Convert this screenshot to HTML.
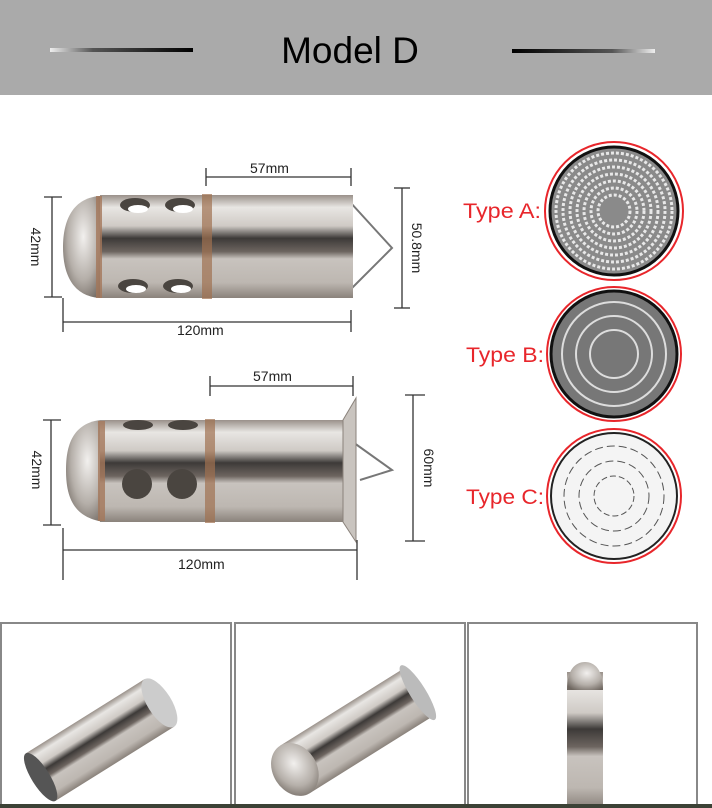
<!DOCTYPE html>
<html><head><meta charset="utf-8"><style>
html,body{margin:0;padding:0;background:#fff;}
body{width:712px;height:808px;overflow:hidden;position:relative;font-family:"Liberation Sans",sans-serif;}
</style></head><body>
<svg width="712" height="808" viewBox="0 0 712 808" xmlns="http://www.w3.org/2000/svg" style="position:absolute;left:0;top:0">
<defs>
<linearGradient id="metal" x1="0" y1="0" x2="0" y2="1">
<stop offset="0" stop-color="#9a918a"/><stop offset="0.12" stop-color="#e8e6e3"/><stop offset="0.3" stop-color="#cfcac5"/>
<stop offset="0.42" stop-color="#3d3a38"/><stop offset="0.55" stop-color="#6d6560"/><stop offset="0.62" stop-color="#c8c3be"/>
<stop offset="0.85" stop-color="#bdb7b1"/><stop offset="1" stop-color="#8a827b"/></linearGradient>
<radialGradient id="dome" cx="0.55" cy="0.4" r="0.7"><stop offset="0" stop-color="#f2f0ee"/><stop offset="0.6" stop-color="#b5afa9"/><stop offset="1" stop-color="#6f6760"/></radialGradient>
<linearGradient id="ll" x1="0" x2="1"><stop offset="0" stop-color="#eee"/><stop offset="0.3" stop-color="#555"/><stop offset="1" stop-color="#000"/></linearGradient>
<linearGradient id="lr" x1="0" x2="1"><stop offset="0" stop-color="#000"/><stop offset="0.7" stop-color="#555"/><stop offset="1" stop-color="#eee"/></linearGradient>
</defs>
<rect x="0" y="0" width="712" height="95" fill="#aaaaaa"/>
<rect x="50" y="48" width="143" height="4" fill="url(#ll)"/>
<rect x="512" y="49" width="143" height="4" fill="url(#lr)"/>
<text x="350" y="63" font-size="37" text-anchor="middle" fill="#000">Model D</text>

<!-- top silencer -->
<g stroke="#333" stroke-width="1.3" fill="none">
<line x1="52" y1="197" x2="52" y2="297"/><line x1="44" y1="197" x2="62" y2="197"/><line x1="44" y1="297" x2="62" y2="297"/>
<line x1="402" y1="188" x2="402" y2="308"/><line x1="394" y1="188" x2="410" y2="188"/><line x1="394" y1="308" x2="410" y2="308"/>
<line x1="206" y1="177" x2="351" y2="177"/><line x1="206" y1="168" x2="206" y2="186"/><line x1="351" y1="168" x2="351" y2="186"/>
<line x1="63" y1="322" x2="351" y2="322"/><line x1="63" y1="298" x2="63" y2="332"/><line x1="351" y1="310" x2="351" y2="332"/>
</g>
<polyline points="350,202 392,248 350,290" fill="none" stroke="#777" stroke-width="2"/>
<path d="M100,196 C70,198 63,225 63,247 C63,270 70,296 100,298 Z" fill="url(#dome)"/>
<rect x="100" y="195" width="253" height="103" fill="url(#metal)"/>
<rect x="96" y="196" width="6" height="102" fill="#a4775a" opacity="0.8"/>
<rect x="202" y="194" width="10" height="105" fill="#a07050" opacity="0.7"/>
<g fill="#4a4540"><ellipse cx="135" cy="205" rx="15" ry="7"/><ellipse cx="180" cy="205" rx="15" ry="7"/><ellipse cx="133" cy="286" rx="15" ry="7"/><ellipse cx="178" cy="286" rx="15" ry="7"/></g>
<g fill="#fff"><ellipse cx="138" cy="209" rx="10" ry="4"/><ellipse cx="183" cy="209" rx="10" ry="4"/><ellipse cx="136" cy="289" rx="10" ry="4"/><ellipse cx="181" cy="289" rx="10" ry="4"/></g>
<g font-size="14" fill="#222">
<text x="250" y="173">57mm</text>
<text x="177" y="335">120mm</text>
<text transform="translate(31,247) rotate(90)" text-anchor="middle">42mm</text>
<text transform="translate(412,248) rotate(90)" text-anchor="middle">50.8mm</text>
</g>

<!-- bottom silencer -->
<g stroke="#333" stroke-width="1.3" fill="none">
<line x1="51" y1="420" x2="51" y2="525"/><line x1="43" y1="420" x2="61" y2="420"/><line x1="43" y1="525" x2="61" y2="525"/>
<line x1="413" y1="395" x2="413" y2="541"/><line x1="405" y1="395" x2="425" y2="395"/><line x1="405" y1="541" x2="425" y2="541"/>
<line x1="210" y1="386" x2="353" y2="386"/><line x1="210" y1="376" x2="210" y2="396"/><line x1="353" y1="376" x2="353" y2="396"/>
<line x1="63" y1="550" x2="357" y2="550"/><line x1="63" y1="528" x2="63" y2="580"/><line x1="357" y1="540" x2="357" y2="580"/>
</g>
<polyline points="350,440 392,470 360,480" fill="none" stroke="#777" stroke-width="2"/>
<path d="M100,420 C70,424 66,450 66,470 C66,495 72,518 105,522 Z" fill="url(#dome)"/>
<rect x="100" y="420" width="248" height="102" fill="url(#metal)"/>
<path d="M343,420 L356,398 L356,542 L343,522 Z" fill="#c9c4bf" stroke="#8a827b"/>
<rect x="98" y="421" width="7" height="100" fill="#a4775a" opacity="0.8"/>
<rect x="205" y="419" width="10" height="104" fill="#a07050" opacity="0.7"/>
<g fill="#4a4540"><ellipse cx="138" cy="425" rx="15" ry="5"/><ellipse cx="183" cy="425" rx="15" ry="5"/><circle cx="137" cy="484" r="15"/><circle cx="182" cy="484" r="15"/></g>
<g font-size="14" fill="#222">
<text x="253" y="381">57mm</text>
<text x="178" y="569">120mm</text>
<text transform="translate(32,470) rotate(90)" text-anchor="middle">42mm</text>
<text transform="translate(424,468) rotate(90)" text-anchor="middle">60mm</text>
</g>

<!-- types -->
<g font-size="21" fill="#e8262b">
<text x="463" y="218" textLength="78" lengthAdjust="spacingAndGlyphs">Type A:</text>
<text x="466" y="362" textLength="78" lengthAdjust="spacingAndGlyphs">Type B:</text>
<text x="466" y="504" textLength="78" lengthAdjust="spacingAndGlyphs">Type C:</text>
</g>
<circle cx="614" cy="211" r="69" fill="none" stroke="#e8262b" stroke-width="2"/>
<circle cx="614" cy="211" r="64" fill="#8a8a8a" stroke="#111" stroke-width="3"/>
<circle cx="614" cy="211" r="58" fill="none" stroke="#fff" stroke-width="3" stroke-dasharray="3 2" opacity="0.8"/>
<circle cx="614" cy="211" r="51" fill="none" stroke="#fff" stroke-width="3" stroke-dasharray="3 2" opacity="0.8"/>
<circle cx="614" cy="211" r="44" fill="none" stroke="#fff" stroke-width="3" stroke-dasharray="3 2" opacity="0.8"/>
<circle cx="614" cy="211" r="37" fill="none" stroke="#fff" stroke-width="3" stroke-dasharray="3 2" opacity="0.8"/>
<circle cx="614" cy="211" r="30" fill="none" stroke="#fff" stroke-width="3" stroke-dasharray="3 2" opacity="0.8"/>
<circle cx="614" cy="211" r="23" fill="none" stroke="#fff" stroke-width="3" stroke-dasharray="3 2" opacity="0.8"/>
<circle cx="614" cy="211" r="16" fill="none" stroke="#fff" stroke-width="3" stroke-dasharray="3 2" opacity="0.8"/>
<circle cx="614" cy="354" r="67" fill="none" stroke="#e8262b" stroke-width="2"/>
<circle cx="614" cy="354" r="63" fill="#777" stroke="#111" stroke-width="3"/>
<circle cx="614" cy="354" r="52" fill="none" stroke="#ddd" stroke-width="2"/>
<circle cx="614" cy="354" r="38" fill="none" stroke="#ddd" stroke-width="2"/>
<circle cx="614" cy="354" r="24" fill="none" stroke="#ddd" stroke-width="2"/>
<circle cx="614" cy="496" r="67" fill="none" stroke="#e8262b" stroke-width="2"/>
<circle cx="614" cy="496" r="63" fill="#f4f4f4" stroke="#222" stroke-width="2"/>
<circle cx="614" cy="496" r="50" fill="none" stroke="#555" stroke-width="1" stroke-dasharray="8 4"/>
<circle cx="614" cy="496" r="35" fill="none" stroke="#555" stroke-width="1" stroke-dasharray="8 4"/>
<circle cx="614" cy="496" r="20" fill="none" stroke="#555" stroke-width="1" stroke-dasharray="6 3"/>

<!-- bottom frames -->
<g fill="none" stroke="#888" stroke-width="2">
<rect x="1" y="623" width="230" height="186"/>
<rect x="235" y="623" width="230" height="186"/>
<rect x="468" y="623" width="229" height="186"/>
</g>
<g transform="translate(100,740) rotate(-32)"><rect x="-70" y="-28" width="140" height="56" fill="url(#metal)"/><ellipse cx="-70" cy="0" rx="9" ry="28" fill="#555"/><ellipse cx="70" cy="0" rx="12" ry="28" fill="#ccc"/></g>
<g transform="translate(350,735) rotate(-32)"><rect x="-65" y="-28" width="145" height="56" fill="url(#metal)"/><ellipse cx="-65" cy="0" rx="22" ry="28" fill="url(#dome)"/><ellipse cx="80" cy="0" rx="8" ry="32" fill="#bbb"/></g>
<rect x="567" y="672" width="36" height="136" fill="url(#metal)"/>
<path d="M567,690 C567,670 575,662 585,662 C595,662 603,670 603,690 Z" fill="url(#dome)"/>
<rect x="0" y="804" width="712" height="4" fill="#3c4236"/>
</svg>
</body></html>
